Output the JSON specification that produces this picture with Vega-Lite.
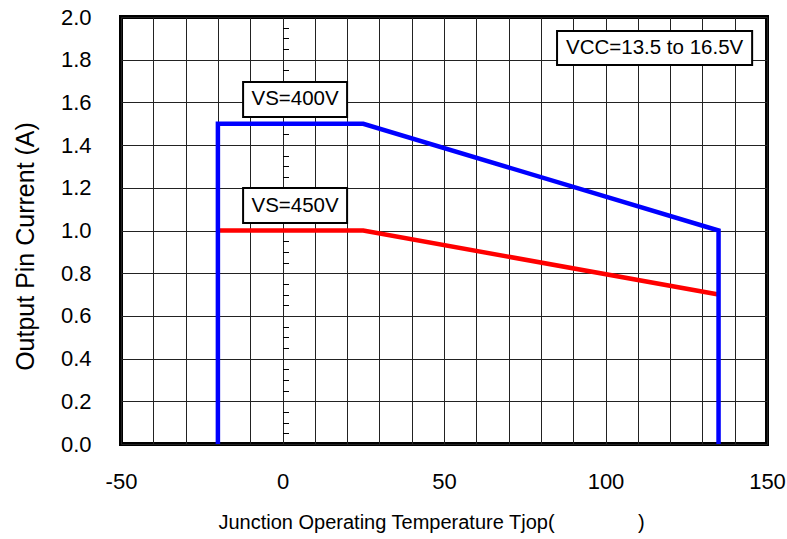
{
  "$schema": "https://vega.github.io/schema/vega-lite/v6.json",
  "width": 646,
  "height": 427,
  "autosize": "none",
  "padding": {"left": 121, "top": 17, "right": 20, "bottom": 95},
  "background": "white",
  "config": {
    "view": {"stroke": "black", "strokeWidth": 4},
    "font": "Liberation Sans"
  },
  "datasets": {
    "vs400": [
      {"t": -20, "i": 0, "k": 1},
      {"t": -20, "i": 1.5, "k": 2},
      {"t": 25, "i": 1.5, "k": 3},
      {"t": 135, "i": 1.0, "k": 4},
      {"t": 135, "i": 0, "k": 5}
    ],
    "vs450": [
      {"t": -20, "i": 1.0, "k": 1},
      {"t": 25, "i": 1.0, "k": 2},
      {"t": 135, "i": 0.7, "k": 3}
    ],
    "notes": [
      {"label": "VS=400V", "x": -12.2, "x2": 20.0, "y": 1.532, "y2": 1.696, "tx": 3.9, "ty": 1.614},
      {"label": "VS=450V", "x": -12.2, "x2": 20.0, "y": 1.035, "y2": 1.199, "tx": 3.9, "ty": 1.117},
      {"label": "VCC=13.5 to 16.5V", "x": 85.0, "x2": 145.4, "y": 1.775, "y2": 1.934, "tx": 115.2, "ty": 1.855}
    ]
  },
  "resolve": {"axis": {"y": "independent", "x": "independent"}},
  "layer": [
    {
      "data": {"name": "vs450"},
      "mark": {"type": "line", "color": "#ff0000", "strokeWidth": 4.5, "strokeJoin": "miter", "strokeCap": "butt"},
      "encoding": {
        "x": {
          "field": "t", "type": "quantitative",
          "scale": {"domain": [-50, 150], "nice": false, "zero": false},
          "title": "Junction Operating Temperature Tjop(\u00a0\u00a0\u00a0\u00a0\u00a0\u00a0\u00a0\u00a0\u00a0\u00a0\u00a0\u00a0\u00a0\u00a0\u00a0)",
          "axis": {
            "values": [-50, -40, -30, -20, -10, 0, 10, 20, 30, 40, 50, 60, 70, 80, 90, 100, 110, 120, 130, 140, 150],
            "labelExpr": "datum.value % 50 === 0 ? '' + datum.value : ''",
            "labelFlush": false, "labelOverlap": false,
            "ticks": false, "domain": false,
            "grid": true, "gridColor": "#222", "gridWidth": 1, "gridOpacity": 1,
            "labelFontSize": 22, "labelColor": "black", "labelPadding": 27, "labelFont": "Liberation Sans",
            "titleFontSize": 20, "titleFontWeight": "normal", "titleColor": "black", "titlePadding": 20, "titleFont": "Liberation Sans",
            "titleX": 310
          }
        },
        "y": {
          "field": "i", "type": "quantitative",
          "scale": {"domain": [0, 2], "nice": false},
          "title": "Output Pin Current (A)",
          "axis": {
            "orient": "left",
            "values": [0, 0.2, 0.4, 0.6, 0.8, 1.0, 1.2, 1.4, 1.6, 1.8, 2.0],
            "format": ".1f",
            "labelFlush": false, "labelOverlap": false,
            "ticks": false, "domain": false,
            "grid": true, "gridColor": "#222", "gridWidth": 1, "gridOpacity": 1,
            "labelFontSize": 22, "labelColor": "black", "labelPadding": 30, "labelFont": "Liberation Sans",
            "titleFontSize": 25, "titleFontWeight": "normal", "titleColor": "black", "titlePadding": 22, "titleFont": "Liberation Sans",
            "titleY": 229
          }
        },
        "order": {"field": "k"}
      }
    },
    {
      "data": {"name": "vs400"},
      "mark": {"type": "line", "color": "#0000ff", "strokeWidth": 4.5, "strokeJoin": "miter", "strokeCap": "butt"},
      "encoding": {
        "x": {"field": "t", "type": "quantitative", "axis": null},
        "y": {
          "field": "i", "type": "quantitative",
          "axis": {
            "orient": "right",
            "offset": -484.5,
            "values": [0.05, 0.1, 0.15, 0.25, 0.3, 0.35, 0.45, 0.5, 0.55, 0.65, 0.7, 0.75, 0.85, 0.9, 0.95, 1.05, 1.1, 1.15, 1.25, 1.3, 1.35, 1.45, 1.5, 1.55, 1.65, 1.7, 1.75, 1.85, 1.9, 1.95],
            "labels": false, "domain": false, "grid": false,
            "ticks": true, "tickSize": 6, "tickColor": "black", "tickWidth": 1,
            "title": null
          }
        },
        "order": {"field": "k"}
      }
    },
    {
      "data": {"name": "notes"},
      "mark": {"type": "rect", "fill": "white", "stroke": "black", "strokeWidth": 2},
      "encoding": {
        "x": {"field": "x", "type": "quantitative", "axis": null},
        "x2": {"field": "x2"},
        "y": {"field": "y", "type": "quantitative", "axis": null},
        "y2": {"field": "y2"}
      }
    },
    {
      "data": {"name": "notes"},
      "mark": {"type": "text", "fontSize": 20.5, "font": "Liberation Sans", "color": "black", "align": "center", "baseline": "middle"},
      "encoding": {
        "x": {"field": "tx", "type": "quantitative", "axis": null},
        "y": {"field": "ty", "type": "quantitative", "axis": null},
        "text": {"field": "label"}
      }
    }
  ]
}
